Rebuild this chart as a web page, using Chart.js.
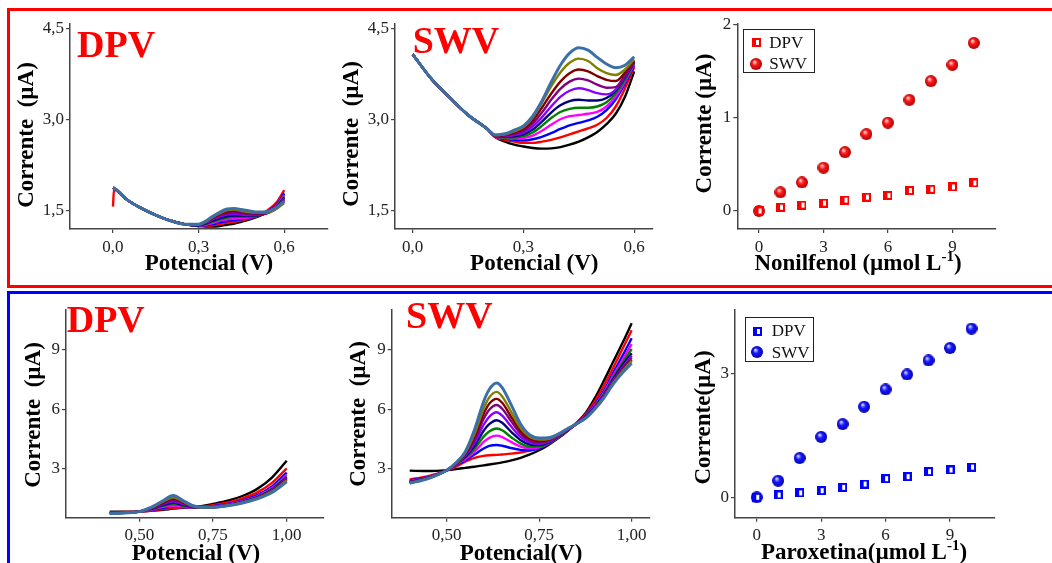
<!DOCTYPE html>
<html>
<head>
<meta charset="utf-8">
<script src="https://cdn.jsdelivr.net/npm/chart.js@4.4.1/dist/chart.umd.min.js"></script>
<style>
    body { margin: 0; background: #fff; width: 1052px; height: 563px; overflow: hidden; position: relative; }
    .frame { position: absolute; box-sizing: border-box; border: 3px solid; }
    canvas { position: absolute; }
</style>
</head>
<body>
<div class="frame" style="left:7px;top:8px;width:1100px;height:280px;border-color:#ff0000"></div>
<div class="frame" style="left:7px;top:291px;width:1100px;height:400px;border-color:#0000ff"></div>
<canvas id="c1" width="329" height="272" style="left:11px;top:12px"></canvas>
<canvas id="c2" width="340" height="272" style="left:340px;top:12px"></canvas>
<canvas id="c3" width="372" height="272" style="left:680px;top:12px"></canvas>
<canvas id="c4" width="329" height="269" style="left:11px;top:294px"></canvas>
<canvas id="c5" width="340" height="269" style="left:340px;top:294px"></canvas>
<canvas id="c6" width="372" height="269" style="left:680px;top:294px"></canvas>
<script>
// Curve order: black (blank) ... steel blue (highest concentration)
const curveColors = ['#000000', '#ff0000', '#0000ff', '#ff00ff', '#008000', '#000080',
    '#8a00ff', '#800080', '#800000', '#808000', '#3b6fa6'];

// Nonilfenol - DPV (top left)
const npDpvX = [0, 0.004, 0.05, 0.10, 0.15, 0.20, 0.25,
    0.30, 0.325, 0.35, 0.375, 0.40, 0.425, 0.45, 0.475, 0.50, 0.525, 0.55, 0.575, 0.60];
const npDpvStart = [1.88, 1.57, 1.88, 1.88, 1.88, 1.88, 1.88, 1.88, 1.88, 1.88, 1.88];
const npDpvShared = [1.87, 1.68, 1.54, 1.43, 1.34, 1.28];
const npDpvTail = [
    [1.25, 1.24, 1.24, 1.25, 1.27, 1.29, 1.32, 1.35, 1.39, 1.44, 1.51, 1.60, 1.78],
    [1.25, 1.25, 1.26, 1.28, 1.30, 1.32, 1.34, 1.37, 1.41, 1.46, 1.54, 1.65, 1.84],
    [1.25, 1.26, 1.28, 1.31, 1.33, 1.35, 1.36, 1.38, 1.41, 1.45, 1.51, 1.61, 1.79],
    [1.26, 1.27, 1.30, 1.34, 1.36, 1.37, 1.38, 1.39, 1.41, 1.44, 1.50, 1.59, 1.76],
    [1.26, 1.28, 1.32, 1.36, 1.39, 1.40, 1.40, 1.40, 1.41, 1.44, 1.49, 1.58, 1.74],
    [1.26, 1.29, 1.34, 1.38, 1.41, 1.42, 1.42, 1.42, 1.42, 1.44, 1.49, 1.57, 1.72],
    [1.27, 1.30, 1.36, 1.41, 1.44, 1.45, 1.44, 1.43, 1.43, 1.44, 1.48, 1.56, 1.70],
    [1.27, 1.31, 1.37, 1.43, 1.46, 1.47, 1.46, 1.45, 1.44, 1.45, 1.48, 1.55, 1.68],
    [1.27, 1.32, 1.39, 1.45, 1.49, 1.50, 1.49, 1.47, 1.46, 1.46, 1.48, 1.55, 1.66],
    [1.27, 1.32, 1.40, 1.46, 1.51, 1.52, 1.50, 1.48, 1.47, 1.47, 1.48, 1.54, 1.63],
    [1.28, 1.33, 1.41, 1.48, 1.53, 1.54, 1.52, 1.50, 1.48, 1.48, 1.50, 1.56, 1.66]
];

// Nonilfenol - SWV (top middle)
const npSwvX = [0, 0.05, 0.10, 0.15, 0.20,
    0.225, 0.25, 0.275, 0.30, 0.325, 0.35, 0.375, 0.40, 0.425, 0.45, 0.475, 0.50, 0.525, 0.55, 0.575, 0.60];
const npSwvShared = [4.08, 3.68, 3.37, 3.08, 2.86];
const npSwvTail = [
    [2.71, 2.64, 2.59, 2.56, 2.535, 2.525, 2.53, 2.55, 2.59, 2.64, 2.71, 2.80, 2.93, 3.10, 3.38, 3.80],
    [2.71, 2.67, 2.64, 2.62, 2.62, 2.64, 2.67, 2.71, 2.76, 2.81, 2.86, 2.92, 3.03, 3.22, 3.52, 3.87],
    [2.72, 2.69, 2.67, 2.66, 2.68, 2.72, 2.78, 2.85, 2.91, 2.95, 2.99, 3.05, 3.16, 3.34, 3.60, 3.90],
    [2.72, 2.70, 2.69, 2.70, 2.74, 2.82, 2.92, 3.01, 3.06, 3.08, 3.10, 3.13, 3.22, 3.39, 3.63, 3.92],
    [2.72, 2.71, 2.71, 2.73, 2.79, 2.90, 3.03, 3.13, 3.18, 3.20, 3.20, 3.22, 3.29, 3.44, 3.66, 3.94],
    [2.73, 2.72, 2.73, 2.76, 2.84, 2.97, 3.12, 3.24, 3.31, 3.33, 3.32, 3.32, 3.36, 3.48, 3.70, 3.95],
    [2.73, 2.73, 2.75, 2.79, 2.89, 3.04, 3.22, 3.38, 3.48, 3.52, 3.49, 3.44, 3.42, 3.50, 3.72, 3.96],
    [2.74, 2.74, 2.77, 2.82, 2.94, 3.12, 3.33, 3.51, 3.63, 3.68, 3.65, 3.58, 3.53, 3.54, 3.74, 3.97],
    [2.74, 2.75, 2.79, 2.85, 2.99, 3.20, 3.43, 3.63, 3.77, 3.83, 3.80, 3.72, 3.66, 3.64, 3.78, 3.98],
    [2.75, 2.76, 2.81, 2.88, 3.04, 3.28, 3.55, 3.78, 3.94, 4.01, 3.97, 3.85, 3.77, 3.74, 3.83, 4.00],
    [2.75, 2.77, 2.83, 2.90, 3.06, 3.31, 3.62, 3.90, 4.10, 4.19, 4.15, 4.03, 3.92, 3.86, 3.90, 4.04]
];

// Paroxetina - DPV (bottom left)
const pxDpvX = [0.40, 0.45, 0.50, 0.55, 0.58, 0.615, 0.65, 0.68, 0.71, 0.75, 0.80, 0.85, 0.90, 0.95, 1.00];
const pxDpvY = [
    [0.82, 0.82, 0.84, 0.88, 0.92, 0.98, 1.03, 1.07, 1.11, 1.22, 1.38, 1.62, 1.98, 2.55, 3.40],
    [0.80, 0.81, 0.83, 0.90, 0.96, 1.01, 1.03, 1.06, 1.08, 1.16, 1.30, 1.50, 1.80, 2.28, 3.02],
    [0.78, 0.80, 0.83, 0.93, 1.02, 1.07, 1.05, 1.04, 1.05, 1.11, 1.22, 1.40, 1.66, 2.10, 2.80],
    [0.77, 0.79, 0.83, 0.96, 1.07, 1.13, 1.08, 1.04, 1.03, 1.08, 1.19, 1.36, 1.60, 2.02, 2.68],
    [0.76, 0.79, 0.83, 0.99, 1.12, 1.21, 1.12, 1.05, 1.03, 1.07, 1.17, 1.34, 1.57, 1.97, 2.60],
    [0.76, 0.78, 0.83, 1.01, 1.16, 1.27, 1.16, 1.06, 1.03, 1.06, 1.16, 1.32, 1.55, 1.94, 2.56],
    [0.75, 0.78, 0.83, 1.04, 1.21, 1.35, 1.21, 1.08, 1.03, 1.06, 1.15, 1.31, 1.53, 1.91, 2.52],
    [0.75, 0.77, 0.83, 1.06, 1.25, 1.42, 1.25, 1.09, 1.03, 1.05, 1.15, 1.30, 1.52, 1.88, 2.48],
    [0.74, 0.77, 0.83, 1.08, 1.29, 1.49, 1.29, 1.10, 1.04, 1.05, 1.14, 1.29, 1.51, 1.86, 2.44],
    [0.74, 0.77, 0.83, 1.10, 1.33, 1.56, 1.33, 1.12, 1.04, 1.05, 1.14, 1.28, 1.50, 1.84, 2.40],
    [0.73, 0.76, 0.83, 1.12, 1.38, 1.64, 1.38, 1.14, 1.05, 1.05, 1.13, 1.27, 1.48, 1.80, 2.34]
];

// Paroxetina - SWV (bottom middle)
const pxSwvX = [0.40, 0.45, 0.50, 0.525, 0.55, 0.575, 0.60, 0.615, 0.635, 0.65, 0.675, 0.70,
    0.725, 0.75, 0.775, 0.80, 0.825, 0.85, 0.875, 0.90, 0.925, 0.95, 0.975, 1.00];
const pxSwvY = [
    [2.90, 2.88, 2.93, 2.98, 3.04, 3.10, 3.17, 3.21, 3.27, 3.32, 3.42, 3.55, 3.72, 3.93, 4.20, 4.52, 4.88, 5.30, 5.80, 6.55, 7.45, 8.40, 9.35, 10.35],
    [2.45, 2.62, 2.90, 3.10, 3.35, 3.55, 3.65, 3.68, 3.70, 3.72, 3.76, 3.82, 3.92, 4.06, 4.28, 4.58, 4.92, 5.30, 5.75, 6.40, 7.20, 8.10, 9.05, 10.00],
    [2.40, 2.58, 2.90, 3.18, 3.42, 3.72, 4.02, 4.15, 4.20, 4.16, 4.04, 3.95, 3.93, 4.03, 4.25, 4.55, 4.90, 5.27, 5.68, 6.25, 6.95, 7.85, 8.70, 9.59],
    [2.37, 2.56, 2.91, 3.20, 3.48, 3.85, 4.35, 4.56, 4.67, 4.60, 4.34, 4.12, 4.03, 4.08, 4.27, 4.56, 4.90, 5.26, 5.64, 6.18, 6.85, 7.70, 8.50, 9.29],
    [2.35, 2.55, 2.91, 3.22, 3.55, 4.00, 4.62, 4.88, 5.03, 4.94, 4.58, 4.27, 4.12, 4.13, 4.29, 4.57, 4.90, 5.26, 5.62, 6.13, 6.78, 7.60, 8.35, 9.05],
    [2.33, 2.54, 2.92, 3.24, 3.60, 4.15, 4.92, 5.25, 5.45, 5.32, 4.85, 4.44, 4.22, 4.19, 4.32, 4.60, 4.92, 5.26, 5.60, 6.10, 6.73, 7.52, 8.22, 8.83],
    [2.31, 2.53, 2.92, 3.25, 3.65, 4.30, 5.22, 5.62, 5.85, 5.68, 5.12, 4.60, 4.32, 4.26, 4.36, 4.62, 4.93, 5.26, 5.58, 6.07, 6.69, 7.45, 8.12, 8.71],
    [2.30, 2.52, 2.92, 3.26, 3.70, 4.45, 5.52, 5.98, 6.22, 6.03, 5.38, 4.76, 4.42, 4.33, 4.41, 4.65, 4.95, 5.26, 5.57, 6.05, 6.65, 7.40, 8.05, 8.61],
    [2.29, 2.52, 2.92, 3.27, 3.75, 4.60, 5.78, 6.28, 6.53, 6.33, 5.60, 4.90, 4.52, 4.40, 4.46, 4.68, 4.97, 5.26, 5.56, 6.03, 6.62, 7.35, 7.98, 8.50],
    [2.28, 2.51, 2.92, 3.28, 3.80, 4.75, 6.05, 6.60, 6.88, 6.65, 5.85, 5.05, 4.60, 4.47, 4.50, 4.70, 4.98, 5.26, 5.55, 6.02, 6.60, 7.32, 7.92, 8.45],
    [2.26, 2.50, 2.92, 3.30, 3.85, 4.95, 6.40, 7.00, 7.33, 7.10, 6.20, 5.25, 4.70, 4.55, 4.56, 4.73, 5.00, 5.26, 5.54, 6.00, 6.58, 7.28, 7.85, 8.33]
];

// Calibration points
const concentrations = [0, 1, 2, 3, 4, 5, 6, 7, 8, 9, 10];
const npDpvPeak = [0.0, 0.04, 0.063, 0.084, 0.116, 0.148, 0.166, 0.218, 0.232, 0.257, 0.30];
const npSwvPeak = [0.0, 0.20, 0.306, 0.464, 0.63, 0.823, 0.946, 1.19, 1.39, 1.565, 1.80];
const pxDpvPeak = [0.0, 0.056, 0.105, 0.16, 0.24, 0.32, 0.45, 0.50, 0.62, 0.66, 0.73];
const pxSwvPeak = [0.0, 0.40, 0.95, 1.46, 1.77, 2.19, 2.61, 2.97, 3.31, 3.61, 4.08];

// Tick values
const npVoltTicks = [0, 0.3, 0.6];
const npCurrTicks = [1.5, 3.0, 4.5];
const pxVoltTicks = [0.5, 0.75, 1.0];
const pxCurrTicks = [3, 6, 9];
const concTicks = [0, 3, 6, 9];
const npCalTicks = [0, 1, 2];
const pxCalTicks = [0, 3];

const SERIF = '"Liberation Serif", "Times New Roman", serif';
const TITLE_FONT = 'bold 23px ' + SERIF;
const BIG_FONT = 'bold 38px ' + SERIF;

function comma(digits) {
    return v => Number(v).toFixed(digits).replace('.', ',');
}

function makeBall(light, mid, dark) {
    const d = 12;
    const cv = document.createElement('canvas');
    cv.width = d; cv.height = d;
    const g = cv.getContext('2d');
    const gr = g.createRadialGradient(d * 0.36, d * 0.32, 0.5, d / 2, d / 2, d / 2);
    gr.addColorStop(0, light);
    gr.addColorStop(0.4, mid);
    gr.addColorStop(1, dark);
    g.fillStyle = gr;
    g.beginPath();
    g.arc(d / 2, d / 2, d / 2, 0, Math.PI * 2);
    g.fill();
    return cv;
}

function makeSquare(color) {
    const cv = document.createElement('canvas');
    cv.width = 9; cv.height = 9;
    const g = cv.getContext('2d');
    g.fillStyle = color;
    g.fillRect(0, 0, 9, 9);
    g.fillStyle = '#ffffff';
    g.fillRect(4, 2, 3, 5);
    return cv;
}

const redBall = makeBall('#ffd0d0', '#ff1a1a', '#b00000');
const blueBall = makeBall('#d0d0ff', '#1a1aff', '#0000b0');
const redSquare = makeSquare('#ff0000');
const blueSquare = makeSquare('#0000ff');

function drawText(ctx, it) {
    ctx.save();
    ctx.fillStyle = it.color || '#000';
    ctx.textBaseline = it.baseline || 'alphabetic';
    ctx.translate(it.x, it.y);
    if (it.rot) ctx.rotate(-Math.PI / 2);
    const parts = it.parts || [{ t: it.text }];
    let w = 0;
    parts.forEach(p => {
        ctx.font = p.sup ? it.supFont : it.font;
        p.w = ctx.measureText(p.t).width;
        w += p.w;
    });
    let x0 = it.align === 'left' ? 0 : -w / 2;
    parts.forEach(p => {
        ctx.font = p.sup ? it.supFont : it.font;
        ctx.fillText(p.t, x0, p.sup ? -9 : 0);
        x0 += p.w;
    });
    ctx.restore();
}

function overlay(items, legend) {
    return {
        id: 'overlay',
        afterDraw(chart) {
            const ctx = chart.ctx;
            items.forEach(it => drawText(ctx, it));
            if (legend) {
                ctx.save();
                ctx.strokeStyle = '#222';
                ctx.lineWidth = 1;
                ctx.strokeRect(legend.x + 0.5, legend.y + 0.5, legend.w, legend.h);
                ctx.font = '17px ' + SERIF;
                ctx.fillStyle = '#111';
                ctx.textBaseline = 'middle';
                legend.entries.forEach(e => {
                    ctx.drawImage(e.img, Math.round(legend.mx - e.img.width / 2), Math.round(e.y - e.img.height / 2));
                    ctx.fillText(e.text, legend.tx, e.y + 1);
                });
                ctx.restore();
            }
        }
    };
}

function axis(min, max, ticks, fmt, fixSize, horizontal) {
    return {
        type: 'linear',
        min: min,
        max: max,
        afterBuildTicks: s => { s.ticks = ticks.map(v => ({ value: v })); },
        afterFit: s => { if (horizontal) s.height = fixSize; else s.width = fixSize; },
        ticks: {
            callback: fmt,
            autoSkip: false,
            maxRotation: 0,
            padding: horizontal ? 4 : 2,
            color: '#222',
            font: { family: SERIF, size: 17 }
        },
        grid: { drawOnChartArea: false, tickLength: 4, color: '#444', lineWidth: 1.2 },
        border: { color: '#444', width: 1.5 }
    };
}

function baseOptions(g) {
    return {
        responsive: false,
        animation: false,
        devicePixelRatio: 1,
        layout: { padding: { left: 0, top: g.top, right: g.right, bottom: 0 } },
        plugins: { legend: { display: false }, tooltip: { enabled: false } },
        scales: {
            x: axis(g.xMin, g.xMax, g.xTicks, g.xFmt, g.xH, true),
            y: axis(g.yMin, g.yMax, g.yTicks, g.yFmt, g.yW, false)
        }
    };
}

function curveSets(xs, rows) {
    return rows.map((ys, i) => ({
        data: ys.map((y, j) => ({ x: xs[j], y: y })),
        borderColor: curveColors[i],
        borderWidth: i === rows.length - 1 ? 3 : 2.4,
        pointRadius: 0,
        cubicInterpolationMode: 'monotone',
        order: rows.length - 1 - i
    }));
}

function voltChart(id, xs, rows, g, items) {
    new Chart(document.getElementById(id), {
        type: 'line',
        data: { datasets: curveSets(xs, rows) },
        options: baseOptions(g),
        plugins: [overlay(items)]
    });
}

function calChart(id, dpv, swv, square, ball, g, items, legend) {
    new Chart(document.getElementById(id), {
        type: 'scatter',
        data: {
            datasets: [
                { label: 'DPV', data: concentrations.map((x, i) => ({ x: x, y: dpv[i] })), pointStyle: square },
                { label: 'SWV', data: concentrations.map((x, i) => ({ x: x, y: swv[i] })), pointStyle: ball }
            ]
        },
        options: baseOptions(g),
        plugins: [overlay(items, legend)]
    });
}

const npDpvCurves = npDpvTail.map((t, i) => [npDpvStart[i]].concat(npDpvShared, t));
const npSwvCurves = npSwvTail.map(t => npSwvShared.concat(t));

voltChart('c1', npDpvX, npDpvCurves, {
    top: 10, right: 12, xH: 55, yW: 59,
    xMin: -0.1506, xMax: 0.7533, xTicks: npVoltTicks, xFmt: comma(1),
    yMin: 1.2, yMax: 4.577, yTicks: npCurrTicks, yFmt: comma(1)
}, [
    { text: 'DPV', x: 66, y: 45.3, font: BIG_FONT, color: '#ff0000', align: 'left' },
    { text: 'Corrente  (\u00b5A)', x: 16, y: 123, font: TITLE_FONT, rot: true, baseline: 'middle' },
    { text: 'Potencial (V)', x: 198, y: 258, font: TITLE_FONT }
]);

voltChart('c2', npSwvX, npSwvCurves, {
    top: 10, right: 27, xH: 55, yW: 55,
    xMin: -0.0479, xMax: 0.6509, xTicks: npVoltTicks, xFmt: comma(1),
    yMin: 1.2, yMax: 4.577, yTicks: npCurrTicks, yFmt: comma(1)
}, [
    { text: 'SWV', x: 72.7, y: 41.3, font: BIG_FONT, color: '#ff0000', align: 'left' },
    { text: 'Corrente  (\u00b5A)', x: 12, y: 122, font: TITLE_FONT, rot: true, baseline: 'middle' },
    { text: 'Potencial (V)', x: 194.3, y: 258, font: TITLE_FONT }
]);

calChart('c3', npDpvPeak, npSwvPeak, redSquare, redBall, {
    top: 9, right: 56, xH: 55, yW: 57.3,
    xMin: -1.01, xMax: 11.03, xTicks: concTicks, xFmt: v => String(v),
    yMin: -0.193, yMax: 2.0, yTicks: npCalTicks, yFmt: v => String(v)
}, [
    { text: 'Corrente (\u00b5A)', x: 24.7, y: 111.5, font: TITLE_FONT, rot: true, baseline: 'middle' },
    { parts: [{ t: 'Nonilfenol (\u00b5mol L' }, { t: '-1', sup: true }, { t: ')' }],
        x: 178, y: 258, font: TITLE_FONT, supFont: 'bold 15px ' + SERIF }
], {
    x: 63, y: 17, w: 71, h: 43, mx: 76, tx: 89.3,
    entries: [{ img: redSquare, text: 'DPV', y: 30.7 }, { img: redBall, text: 'SWV', y: 52 }]
});

voltChart('c4', pxDpvX, pxDpvY, {
    top: 16, right: 16, xH: 45.3, yW: 55,
    xMin: 0.2514, xMax: 1.1265, xTicks: pxVoltTicks, xFmt: comma(2),
    yMin: 0.523, yMax: 11.02, yTicks: pxCurrTicks, yFmt: v => String(v)
}, [
    { text: 'DPV', x: 55.7, y: 37.7, font: BIG_FONT, color: '#ff0000', align: 'left' },
    { text: 'Corrente  (\u00b5A)', x: 23, y: 121, font: TITLE_FONT, rot: true, baseline: 'middle' },
    { text: 'Potencial (V)', x: 185, y: 266, font: TITLE_FONT }
]);

voltChart('c5', pxSwvX, pxSwvY, {
    top: 16, right: 30, xH: 45.3, yW: 51.7,
    xMin: 0.3514, xMax: 1.0495, xTicks: pxVoltTicks, xFmt: comma(2),
    yMin: 0.523, yMax: 11.02, yTicks: pxCurrTicks, yFmt: v => String(v)
}, [
    { text: 'SWV', x: 66, y: 34.3, font: BIG_FONT, color: '#ff0000', align: 'left' },
    { text: 'Corrente  (\u00b5A)', x: 18.7, y: 120, font: TITLE_FONT, rot: true, baseline: 'middle' },
    { text: 'Potencial(V)', x: 181, y: 266, font: TITLE_FONT }
]);

calChart('c6', pxDpvPeak, pxSwvPeak, blueSquare, blueBall, {
    top: 16, right: 57.7, xH: 45.3, yW: 55,
    xMin: -1.01, xMax: 11.06, xTicks: concTicks, xFmt: v => String(v),
    yMin: -0.494, yMax: 4.53, yTicks: pxCalTicks, yFmt: v => String(v)
}, [
    { text: 'Corrente(\u00b5A)', x: 24, y: 123.5, font: TITLE_FONT, rot: true, baseline: 'middle' },
    { parts: [{ t: 'Paroxetina(\u00b5mol L' }, { t: '-1', sup: true }, { t: ')' }],
        x: 184, y: 265, font: TITLE_FONT, supFont: 'bold 15px ' + SERIF }
], {
    x: 65, y: 23, w: 68, h: 44, mx: 77.3, tx: 91.7,
    entries: [{ img: blueSquare, text: 'DPV', y: 37 }, { img: blueBall, text: 'SWV', y: 58.3 }]
});
</script>
</body>
</html>
